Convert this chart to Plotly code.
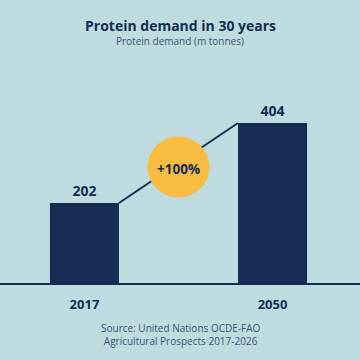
import plotly.graph_objects as go

years = ["2017", "2050"]
demand = [202, 404]
change_label = "+100%"

navy = "#162C52"
bg = "#BEDCE0"
yellow = "#F9BC42"
sub = "#3D5170"
font = "Open Sans"

xs = [0, 1]
bw = 0.367

fig = go.Figure()
fig.add_trace(go.Bar(
    x=xs, y=demand, width=bw, marker=dict(color=navy, line=dict(width=0)),
    texttemplate="<b>%{y}</b>", textposition="outside",
    textfont=dict(family=font, size=14, color=navy),
    cliponaxis=False, hoverinfo="skip"))
fig.add_trace(go.Scatter(
    x=[xs[0] + bw / 2, xs[1] - bw / 2], y=demand, mode="lines",
    line=dict(color=navy, width=2), hoverinfo="skip"))

mid_x = (xs[0] + xs[1]) / 2
mid_y = (demand[0] + demand[1]) / 2

H = 360; t = 100; b = 77
ph = H - t - b
def ypaper(py):
    return (H - b - py) / ph

fig.update_layout(
    width=360, height=360, showlegend=False,
    paper_bgcolor=bg, plot_bgcolor=bg,
    margin=dict(l=0, r=0, t=t, b=b),
    xaxis=dict(range=[-0.449, 1.465], tickvals=xs, ticktext=["<b>%s</b>" % y for y in years],
               showgrid=False, zeroline=False, showline=True, linecolor=navy, linewidth=2,
               tickfont=dict(family=font, size=13, color=navy), ticks="", ticklabelstandoff=8),
    yaxis=dict(range=[0, 462], visible=False, showgrid=False, zeroline=False),
    font=dict(family=font, color=navy),
    shapes=[dict(type="circle", xref="x", yref="y", xsizemode="pixel", ysizemode="pixel",
                 xanchor=mid_x, yanchor=mid_y, x0=-31, x1=31, y0=-34.5, y1=26.5,
                 fillcolor=yellow, line=dict(width=0), layer="above")],
    annotations=[
        dict(text="<b>%s</b>" % change_label, x=mid_x, y=mid_y, xref="x", yref="y",
             yshift=-6, showarrow=False, font=dict(family=font, size=13.5, color=navy)),
        dict(text="<b>Protein demand in 30 years</b>", x=0.5, y=ypaper(25), yanchor="middle",
             xref="paper", yref="paper", showarrow=False,
             font=dict(family=font, size=14, color=navy)),
        dict(text="Protein demand (m tonnes)", x=0.5, y=ypaper(41.5), yanchor="middle",
             xref="paper", yref="paper", showarrow=False,
             font=dict(family=font, size=10, color=sub)),
        dict(text="Source: United Nations OCDE-FAO<br>Agricultural Prospects 2017-2026", x=0.5,
             y=ypaper(334), yanchor="middle", xref="paper", yref="paper", showarrow=False,
             font=dict(family=font, size=10, color=sub)),
    ],
)
fig.write_html("out.html", config={"displayModeBar": False},
               post_script="document.body.style.margin='0';")
